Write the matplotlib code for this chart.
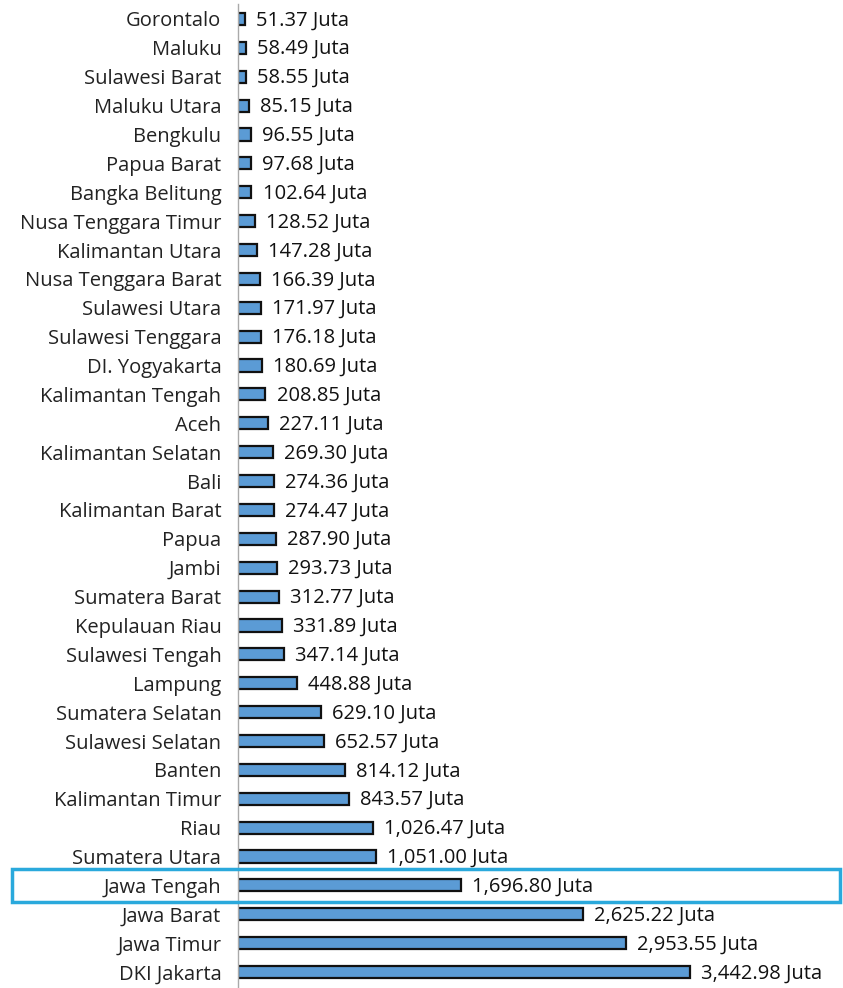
import matplotlib
matplotlib.use("Agg")
import matplotlib.pyplot as plt
from matplotlib.patches import Rectangle

provinces = ["Gorontalo", "Maluku", "Sulawesi Barat", "Maluku Utara", "Bengkulu", "Papua Barat",
             "Bangka Belitung", "Nusa Tenggara Timur", "Kalimantan Utara", "Nusa Tenggara Barat",
             "Sulawesi Utara", "Sulawesi Tenggara", "DI. Yogyakarta", "Kalimantan Tengah", "Aceh",
             "Kalimantan Selatan", "Bali", "Kalimantan Barat", "Papua", "Jambi", "Sumatera Barat",
             "Kepulauan Riau", "Sulawesi Tengah", "Lampung", "Sumatera Selatan", "Sulawesi Selatan",
             "Banten", "Kalimantan Timur", "Riau", "Sumatera Utara", "Jawa Tengah", "Jawa Barat",
             "Jawa Timur", "DKI Jakarta"]
values = [51.37, 58.49, 58.55, 85.15, 96.55, 97.68, 102.64, 128.52, 147.28, 166.39, 171.97,
          176.18, 180.69, 208.85, 227.11, 269.30, 274.36, 274.47, 287.90, 293.73, 312.77,
          331.89, 347.14, 448.88, 629.10, 652.57, 814.12, 843.57, 1026.47, 1051.00, 1696.80,
          2625.22, 2953.55, 3442.98]
highlight = "Jawa Tengah"

plt.rcParams['font.family'] = ['Open Sans', 'DejaVu Sans']

W, H = 843, 988
fig = plt.figure(figsize=(W / 100, H / 100), dpi=100)
ax = fig.add_axes([238 / W, 1.5 / H, 1 - 238 / W, (986.5 - 4.5) / H])

y = list(range(len(provinces)))
ax.barh(y, values, height=0.42, color="#5b9bd5", edgecolor="#111111", linewidth=1.6)
ax.set_ylim(len(provinces) - 0.5, -0.5)
ax.set_xlim(0, (W - 238) / ((690 - 238) / 3442.98))

ax.set_yticks(y)
ax.set_yticklabels(provinces, fontsize=14.5, color="#222222")
ax.tick_params(axis='y', length=0, pad=12)
ax.set_xticks([])
for s in ["top", "right", "bottom"]:
    ax.spines[s].set_visible(False)
ax.spines["left"].set_color("#aaaaaa")
ax.spines["left"].set_linewidth(1.0)

for yi, v in zip(y, values):
    ax.annotate(f"{v:,.2f} Juta", (v, yi), xytext=(8, -1), textcoords="offset points",
                va="center", ha="left", fontsize=14.5, color="#111111")

idx = provinces.index(highlight)
yc_px = 4.5 + (idx + 0.5) * (982 / len(provinces))
fig.patches.append(Rectangle((12 / W, 1 - (yc_px + 17) / H), (840 - 12) / W, 33 / H,
                             transform=fig.transFigure, fill=False,
                             edgecolor="#2aa9dc", linewidth=2.5))

fig.savefig("out.png", dpi=100)
